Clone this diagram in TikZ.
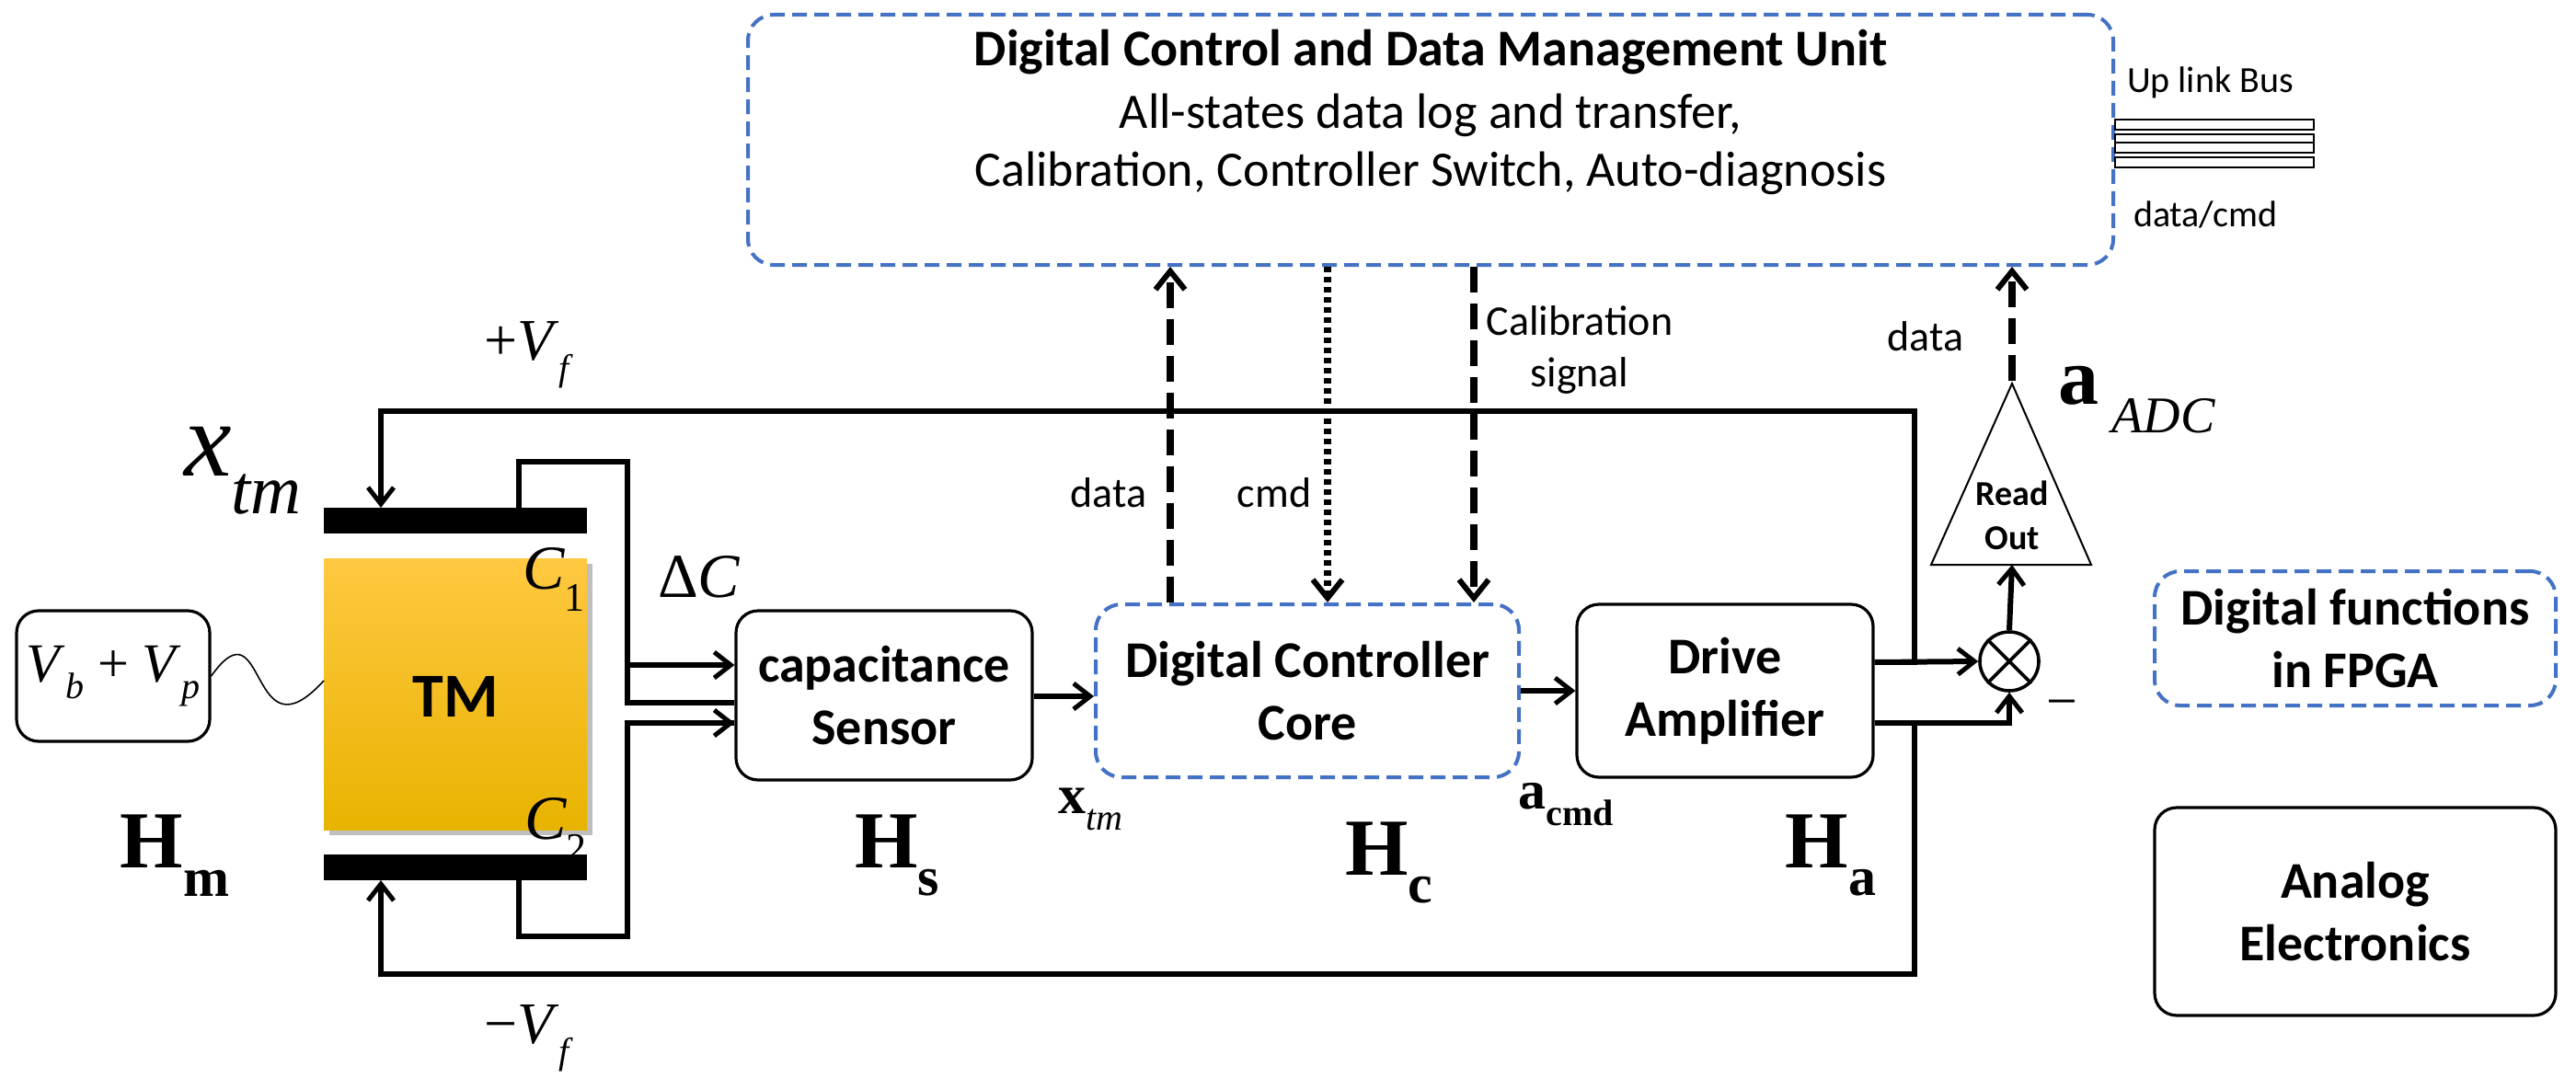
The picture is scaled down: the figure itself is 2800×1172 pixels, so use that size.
\documentclass[tikz,border=0pt]{standalone}
\usepackage{fontspec}
\setmainfont{Carlito}
\newfontfamily\tms{Liberation Serif}
\usetikzlibrary{arrows.meta,shapes.geometric}
\definecolor{dblue}{HTML}{4472C4}
\begin{document}
\begin{tikzpicture}[x=0.5pt,y=-0.5pt,
  blk/.style={draw,line width=1.6pt,rounded corners=12pt,align=center,font=\fontsize{28}{34}\selectfont\bfseries},
  dig/.style={draw=dblue,line width=2pt,dash pattern=on 8pt off 4pt,rounded corners=14pt,align=center,font=\fontsize{28}{34}\selectfont\bfseries},
  wire/.style={line width=3pt,-{Straight Barb[length=9pt,width=14pt,line width=2.5pt]}},
  thk/.style={line width=3pt},
  dsh/.style={line width=4pt,dash pattern=on 14pt off 6pt,-{Straight Barb[length=10pt,width=16pt,line width=3pt]}},
  dot/.style={line width=4pt,dash pattern=on 3pt off 2.5pt,-{Straight Barb[length=10pt,width=16pt,line width=3pt]}},
  lbl/.style={font=\fontsize{23}{28}\selectfont},
  tm/.style={font=\fontsize{#1}{#1}\selectfont\tms, inner sep=1pt},
  tm/.default=30]
\useasboundingbox (0,0) rectangle (2800,1172);
% top unit
\node[dig,minimum width=742pt,minimum height=136pt] (dcu) at (1555,152) {};
\node[font=\fontsize{28}{34}\selectfont\bfseries] (t1) at (1555,57) {Digital Control and Data Management Unit};
\node[font=\fontsize{27}{32}\selectfont] (t2) at (1555,125) {All-states data log and transfer,};
\node[font=\fontsize{27}{32}\selectfont] (t3) at (1555,188) {Calibration, Controller Switch, Auto-diagnosis};
% bus
\foreach \a/\b in {130/141,146/155,155/166,171/182}
  \draw[line width=1pt] (2299,\a) rectangle (2515,\b);
\node[font=\fontsize{20}{24}\selectfont,anchor=west] (ulb) at (2305,90) {Up link Bus};
\node[font=\fontsize{20}{24}\selectfont,anchor=west] (dc) at (2312,233) {data/cmd};
% TM
\fill[black!25] (358,613) rectangle (644,908);
\shade[top color={rgb,255:red,255;green,200;blue,65},middle color={rgb,255:red,255;green,195;blue,0},bottom color={rgb,255:red,232;green,180;blue,0}] (352,607) rectangle (638,902);
\node[font=\fontsize{34}{38}\selectfont\bfseries] (tm) at (495,757) {TM};
\fill (352,552) rectangle (638,580);
\fill (352,929) rectangle (638,957);
\coordinate (tp) at (414,552);
\coordinate (bp) at (414,957);
% Vb box
\node[blk,minimum width=105pt,minimum height=71pt,font=\fontsize{30}{34}\selectfont\tms] (vb) at (123,735) {\textit{V}\raisebox{-0.3em}{\fontsize{20}{20}\selectfont\textit{b}} + \textit{V}\raisebox{-0.3em}{\fontsize{20}{20}\selectfont\textit{p}}};
\draw[line width=0.8pt] (vb.east) .. controls (290,650) and (270,830) .. (352,740);
% blocks
\node[blk,minimum width=161pt,minimum height=92pt] (sen) at (961,756) {capacitance\\Sensor};
\node[dig,minimum width=230pt,minimum height=94pt] (ctl) at (1421,751) {Digital Controller\\Core};
\node[blk,minimum width=161pt,minimum height=94pt] (drv) at (1875,751) {Drive\\Amplifier};
\node[dig,minimum width=218pt,minimum height=73pt] (fpga) at (2560,694) {Digital functions\\in FPGA};
\node[blk,minimum width=218pt,minimum height=113pt] (ana) at (2560,991) {Analog\\Electronics};
% wiring plates to sensor
\draw[thk] (564,552) |- (682,502) |- ([yshift=-4pt]sen.west);
\draw[wire] (682,723) -- (sen.west |- 0,723);
\draw[wire] (682,786) -- (sen.west |- 0,786);
\draw[thk] (564,957) |- (682,1018) |- (sen.west |- 0,786);
\draw[wire] (sen.east |- 0,757) -- (ctl.west |- 0,757);
\draw[wire] (ctl.east |- 0,751) -- (drv.west |- 0,751);
% readout
\coordinate (roa) at (2187,417);
\coordinate (rol) at (2099,614);
\coordinate (ror) at (2273,614);
\draw[line width=1pt] (roa) -- (rol) -- (ror) -- cycle;
\node[font=\fontsize{19}{24}\selectfont\bfseries,align=center] (rot) at (2187,560) {Read\\Out};
\node[draw,circle,line width=1.8pt,minimum size=32pt,inner sep=0pt] (mx) at (2184,719) {};
\draw[line width=1.8pt] (mx.north west) -- (mx.south east) (mx.north east) -- (mx.south west);
\draw[wire] (drv.east |- 0,720) -- (mx.west);
\draw[wire] (drv.east |- 0,786) -| (mx.south);
\draw[wire] (mx.north) -- (2187,614);
\node[font=\fontsize{30}{30}\selectfont\tms] (minus) at (2241,772) {\textminus};
% feedback
\draw[wire] (drv.east |- 0,720) -| (2081,447) -| (tp);
\draw[wire] (drv.east |- 0,786) -| (2081,1059) -| (bp);
% dashed
\draw[dsh] (ctl.north -| 1272,0) -- (dcu.south -| 1272,0);
\draw[dot] (dcu.south -| 1443,0) -- (ctl.north -| 1443,0);
\draw[dsh] (dcu.south -| 1602,0) -- (ctl.north -| 1602,0);
\draw[dsh] (2187,414) -- (dcu.south -| 2187,0);
% labels
\node[lbl] (ld) at (1205,536) {data};
\node[lbl] (lc) at (1385,536) {cmd};
\node[lbl,align=center] (lcal) at (1717,380) {Calibration\\signal};
\node[lbl] (ld2) at (2093,366) {data};
\node[tm=44,anchor=west] (adc) at (2235,435) {\textbf{a}\raisebox{-0.35em}{\fontsize{28}{28}\selectfont\textit{ ADC}}};
\node[tm=32] (pvf) at (575,386) {+\textit{V}\raisebox{-0.35em}{\fontsize{20}{20}\selectfont\textit{f}}};
\node[tm=32] (mvf) at (575,1129) {\textminus\textit{V}\raisebox{-0.35em}{\fontsize{20}{20}\selectfont\textit{f}}};
\node[tm=58] (xtm) at (264,512) {\textit{x}\raisebox{-0.35em}{\fontsize{38}{38}\selectfont\textit{tm}}};
\node[tm=34] (c1) at (602,630) {\textit{C}\raisebox{-0.35em}{\fontsize{22}{22}\selectfont 1}};
\node[tm=34] (c2) at (604,902) {\textit{C}\raisebox{-0.35em}{\fontsize{22}{22}\selectfont 2}};
\node[tm=34] (dlc) at (760,627) {Δ\textit{C}};
\node[tm=44] (hm) at (190,930) {\textbf{H}\raisebox{-0.35em}{\fontsize{30}{30}\selectfont\textbf{m}}};
\node[tm=44] (hs) at (975,930) {\textbf{H}\raisebox{-0.35em}{\fontsize{30}{30}\selectfont\textbf{s}}};
\node[tm=44] (hc) at (1510,938) {\textbf{H}\raisebox{-0.35em}{\fontsize{30}{30}\selectfont\textbf{c}}};
\node[tm=44] (ha) at (1990,930) {\textbf{H}\raisebox{-0.35em}{\fontsize{30}{30}\selectfont\textbf{a}}};
\node[tm=30] (xs) at (1185,880) {\textbf{x}\raisebox{-0.3em}{\fontsize{20}{20}\selectfont\textit{tm}}};
\node[tm=30] (ac) at (1702,875) {\textbf{a}\raisebox{-0.3em}{\fontsize{20}{20}\selectfont\textbf{cmd}}};
\end{tikzpicture}
\end{document}
